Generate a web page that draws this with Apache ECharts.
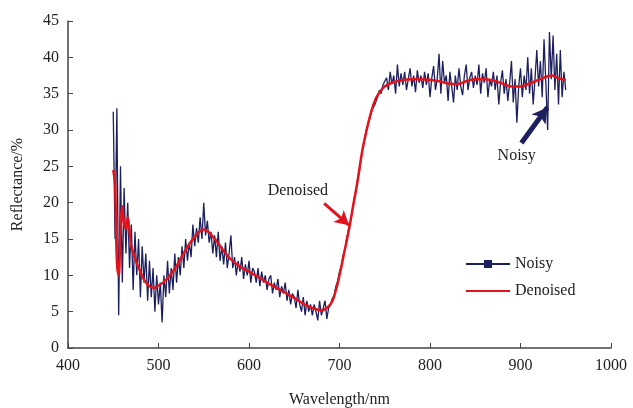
<!DOCTYPE html>
<html>
<head>
<meta charset="utf-8">
<script src="https://cdn.jsdelivr.net/npm/echarts@6/dist/echarts.min.js"></script>
<style>
  html, body { margin: 0; padding: 0; background: #fff; }
  #chart { width: 633px; height: 408px; }
</style>
</head>
<body>
<div id="chart"></div>
<script>
// noisy spectrum, sampled every 2 nm from 450 nm
var noisyStart = 450, noisyStep = 2;
var noisyVal = [
  32.5, 15, 33, 4.5, 25, 9, 22, 13, 20, 11,
  17, 8, 16, 10, 15, 7, 14, 9, 13, 6.5,
  12, 7, 11, 5, 10, 6, 9, 3.5, 10, 7,
  12, 7.5, 11, 8, 13, 9, 12.5, 10, 14, 11,
  15, 12, 14.5, 12.5, 17, 14, 16.5, 14.5, 18, 15,
  20, 15.5, 17.5, 14.5, 16, 13, 15.5, 12.5, 16, 12,
  14, 11.5, 14.5, 11, 13, 15.5, 11, 12.5, 10, 12,
  10.5, 12.5, 9.5, 11.5, 10, 12, 9, 11, 10.5, 9,
  11, 8.5, 10.5, 9, 10, 8, 9.5, 10, 7.5, 9,
  8, 9.5, 7, 8.5, 7.5, 9, 6.5, 8, 6, 7.5,
  7, 5.5, 8, 6, 5, 7, 4.5, 6.5, 5, 6,
  4.5, 6, 5, 3.8, 6.5, 4.5, 5.5, 6.5, 4, 5.5,
  6, 6.8, 7.2, 8.5, 9.2, 10.5, 11.2, 12.8, 13.5, 15.2,
  16.3, 17.2, 18.8, 20.5, 21.5, 23.2, 24.5, 26.2, 27.8, 28.9,
  30.2, 31, 31.8, 32.8, 33.2, 33.8, 34.5, 35.5, 35, 36.2,
  36, 37.2, 35.5, 38, 36.3, 37.5, 35, 39, 36, 37.8,
  36.2, 38, 35.5, 37, 38.5, 36, 37.5, 35.2, 38.2, 36.5,
  37.5, 35.8, 38, 36.2, 37.8, 34.5, 37.2, 38.8, 35.5, 37,
  40.5, 35, 39.5, 36.5, 37.5, 34, 38, 36, 33.8, 37.5,
  35.5, 38.5, 36, 34.8, 37.5, 39, 35.5, 37.2, 38, 35.8,
  37.5, 36.2, 39, 35, 37.8, 36.5, 38.5, 34.5, 37, 36,
  38, 35.5, 37.5, 33.5, 36.5, 38.2, 35, 37, 34, 36.5,
  39.5, 33.8, 37, 31, 36, 38.5, 34.5, 37.5, 35.5, 40,
  35, 38.5, 33.5, 37, 41, 36, 39.5, 34.5, 42.5, 36.5,
  30, 43.5, 37, 43, 35.5, 40.5, 33.5, 41, 34.5, 38,
  35.5
];

// denoised curve
var denoisedWl = [
  450, 452, 454, 456, 458, 460, 462, 464, 466, 468, 470, 475, 480, 485, 490, 495,
  500, 505, 510, 515, 520, 525, 530, 535, 540, 545, 550, 555, 560, 565, 570, 575,
  580, 590, 600, 610, 620, 630, 640, 650, 660, 670, 680, 690, 695, 700, 705, 710,
  715, 720, 725, 730, 735, 740, 745, 750, 760, 770, 780, 790, 800, 810, 820, 830,
  840, 850, 860, 870, 880, 890, 900, 910, 920, 930, 935, 940, 950
];
var denoisedVal = [
  24.5, 22.5, 12, 10, 16, 19.5, 17, 16.5, 18, 16, 14, 12, 10.5, 9.2, 8.5, 8.3,
  8.6, 9.0, 9.6, 10.4, 11.3, 12.4, 13.5, 14.5, 15.3, 16.0, 16.3, 16.0, 15.3, 14.6, 13.7, 12.9,
  12.2, 11.2, 10.5, 9.8, 9.0, 8.3, 7.6, 6.9, 6.1, 5.5, 5.2, 6.0, 7.5, 10.0, 13.0, 16.0,
  19.5, 23, 27, 30, 32.5, 34.3, 35.3, 36.0, 36.6, 36.9, 37.0, 37.0, 36.9, 36.7, 36.4, 36.3,
  36.7, 37.0, 37.0, 36.8, 36.4, 36.0, 36.0, 36.4, 36.9, 37.4, 37.5, 37.2, 36.9
];

var noisyData = noisyVal.map(function (v, i) { return [noisyStart + i * noisyStep, v]; });
var denoisedData = denoisedWl.map(function (w, i) { return [w, denoisedVal[i]]; });

var navy = '#1c1f5e', red = '#e3131b';
var font = '"Liberation Serif", "Times New Roman", serif';

var chart = echarts.init(document.getElementById('chart'));
chart.setOption({
  animation: false,
  textStyle: {fontFamily: font},
  grid: {left: 68, right: 22, top: 21, bottom: 60, outerBoundsMode: 'none', containLabel: false},
  legend: {
    orient: 'vertical',
    left: 460,
    top: 251,
    itemWidth: 44,
    itemHeight: 10,
    itemGap: 11,
    textStyle: {fontFamily: font, fontSize: 16, color: '#222'},
    data: [
      {name: 'Noisy'},
      {name: 'Denoised', itemStyle: {opacity: 0}}
    ]
  },
  xAxis: {
    type: 'value',
    min: 400, max: 1000, interval: 100,
    name: 'Wavelength/nm',
    nameLocation: 'middle',
    nameGap: 44,
    nameTextStyle: {fontFamily: font, fontSize: 16, color: '#222'},
    axisLine: {lineStyle: {color: '#444', width: 1.5}},
    axisTick: {inside: true, length: 5, lineStyle: {color: '#444'}},
    axisLabel: {fontFamily: font, fontSize: 16, color: '#222', margin: 10,
      formatter: function (v) { return String(v); }},
    splitLine: {show: false}
  },
  yAxis: {
    type: 'value',
    min: 0, max: 45, interval: 5,
    name: 'Reflectance/%',
    nameLocation: 'middle',
    nameRotate: 90,
    nameGap: 42,
    nameTextStyle: {fontFamily: font, fontSize: 16, color: '#222'},
    axisLine: {show: true, lineStyle: {color: '#444', width: 1.5}},
    axisTick: {show: true, inside: true, length: 5, lineStyle: {color: '#444'}},
    axisLabel: {fontFamily: font, fontSize: 16, color: '#222', margin: 9},
    splitLine: {show: false}
  },
  series: [
    {
      name: 'Noisy',
      type: 'line',
      data: noisyData,
      symbol: 'rect',
      symbolSize: 9,
      showSymbol: false,
      itemStyle: {color: navy},
      lineStyle: {color: navy, width: 1.3},
      markLine: {
        silent: true,
        symbol: ['none', 'arrow'],
        symbolSize: [13, 15],
        label: {show: false},
        lineStyle: {color: navy, width: 5, type: 'solid'},
        data: [[{coord: [901, 28.2]}, {coord: [929.6, 33.1]}]]
      },
      markPoint: {
        silent: true,
        symbol: 'circle',
        symbolSize: 1,
        itemStyle: {color: 'rgba(0,0,0,0)'},
        label: {show: true, position: 'inside', formatter: 'Noisy', fontFamily: font, fontSize: 16, color: '#222'},
        data: [{coord: [895.8, 26.5]}]
      }
    },
    {
      name: 'Denoised',
      type: 'line',
      data: denoisedData,
      smooth: 0.4,
      symbol: 'none',
      itemStyle: {color: red},
      lineStyle: {color: red, width: 2.5},
      z: 3,
      markLine: {
        silent: true,
        symbol: ['none', 'arrow'],
        symbolSize: [12, 14],
        label: {show: false},
        lineStyle: {color: red, width: 3, type: 'solid'},
        data: [[{coord: [683, 19.9]}, {coord: [710.5, 16.9]}]]
      },
      markPoint: {
        silent: true,
        symbol: 'circle',
        symbolSize: 1,
        itemStyle: {color: 'rgba(0,0,0,0)'},
        label: {show: true, position: 'inside', formatter: 'Denoised', fontFamily: font, fontSize: 16, color: '#222'},
        data: [{coord: [654, 21.7]}]
      }
    }
  ]
});
</script>
</body>
</html>
